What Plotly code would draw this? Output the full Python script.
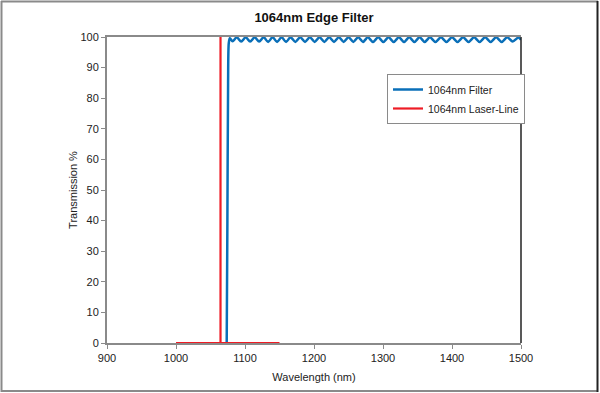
import plotly.graph_objects as go

# ---- data ----
filter_wl = [1073.5, 1074.5, 1075.5, 1076.5, 1078,
             1082, 1088, 1094.5, 1101, 1107.5, 1114, 1120.5, 1127, 1133.5, 1140,
             1146.5, 1153, 1159.5, 1166, 1173, 1180, 1187, 1194, 1201, 1208,
             1215, 1222, 1229, 1236, 1243, 1250, 1257, 1264, 1271, 1278,
             1285.5, 1293, 1300.5, 1308, 1315.5, 1323, 1330.5, 1338, 1345.5, 1353,
             1360.5, 1368, 1376, 1384, 1392, 1400, 1408, 1416, 1424, 1432,
             1440, 1448, 1456, 1464, 1472, 1480, 1488, 1496, 1500]
filter_t = [0, 40, 85, 98, 99.6,
            98.6, 99.9, 98.5, 99.9, 98.5, 99.9, 98.5, 99.9, 98.4, 99.9,
            98.4, 99.9, 98.4, 99.9, 98.4, 99.9, 98.4, 99.9, 98.4, 99.9,
            98.4, 99.9, 98.4, 99.9, 98.4, 99.9, 98.4, 99.9, 98.4, 99.9,
            98.4, 99.9, 98.4, 99.9, 98.4, 99.9, 98.4, 99.9, 98.4, 99.9,
            98.4, 99.9, 98.4, 99.9, 98.4, 99.9, 98.4, 99.9, 98.4, 99.9,
            98.4, 99.9, 98.4, 99.9, 98.4, 99.9, 98.5, 99.8, 99.1]

laser_wl = [1000, 1064.5, 1064.5, 1064.5, 1150]
laser_t = [0, 0, 100, 0, 0]

x_ticks = [900, 1000, 1100, 1200, 1300, 1400, 1500]
y_ticks = [0, 10, 20, 30, 40, 50, 60, 70, 80, 90, 100]

FONT = "Liberation Sans, Arial, sans-serif"

fig = go.Figure()
fig.add_trace(go.Scatter(x=filter_wl, y=filter_t, mode="lines", name="1064nm Filter",
                         line=dict(color="#0A6FB8", width=2.5, shape="spline", smoothing=0.8)))
fig.add_trace(go.Scatter(x=laser_wl, y=laser_t, mode="lines", name="1064nm Laser-Line",
                         line=dict(color="#EE1C25", width=2.2)))

L, R, T, B = 107, 79, 37, 50
W, H = 600 - L - R, 393 - T - B

def px(x):
    return (x - L) / W

def py(y):
    return (393 - B - y) / H

shapes = [
    # outer frame
    dict(type="line", xref="paper", yref="paper", x0=px(1), x1=px(598), y0=py(1.5), y1=py(1.5),
         line=dict(color="#8A8A8A", width=2)),
    dict(type="line", xref="paper", yref="paper", x0=px(1.5), x1=px(1.5), y0=py(1), y1=py(392),
         line=dict(color="#8A8A8A", width=2)),
    dict(type="line", xref="paper", yref="paper", x0=px(1), x1=px(598), y0=py(391), y1=py(391),
         line=dict(color="#8A8A8A", width=2)),
    dict(type="line", xref="paper", yref="paper", x0=px(597.5), x1=px(597.5), y0=py(1), y1=py(392),
         line=dict(color="#222222", width=2)),
    # right plot border
    dict(type="line", xref="paper", yref="paper", x0=1, x1=1, y0=0, y1=1,
         line=dict(color="#222222", width=1.5)),
]

fig.update_layout(
    width=600, height=393,
    margin=dict(l=L, r=R, t=T, b=B),
    paper_bgcolor="white", plot_bgcolor="white",
    font=dict(family=FONT, size=11, color="#222222"),
    title=dict(text="<b>1064nm Edge Filter</b>", x=0.5, xref="paper", xanchor="center",
               y=1 - 17 / 393, yanchor="middle",
               font=dict(family=FONT, size=13, color="#111111")),
    xaxis=dict(range=[900, 1500], tickvals=x_ticks, ticktext=[str(v) for v in x_ticks],
               showgrid=False, zeroline=False, showline=True, linecolor="#8A8A8A", linewidth=2,
               mirror=True, ticks="outside", ticklen=4, tickcolor="#8A8A8A", tickwidth=1,
               title=dict(text="Wavelength (nm)", standoff=10, font=dict(size=11))),
    yaxis=dict(range=[0, 100], tickvals=y_ticks, ticktext=[str(v) for v in y_ticks],
               showgrid=False, zeroline=False, showline=True, linecolor="#8A8A8A", linewidth=2,
               ticks="outside", ticklen=4, tickcolor="#8A8A8A", tickwidth=1,
               title=dict(text="Transmission %", standoff=1, font=dict(size=11))),
    legend=dict(x=px(387), y=py(74), xanchor="left", yanchor="top",
                bordercolor="#8A8A8A", borderwidth=1, bgcolor="white",
                font=dict(family=FONT, size=10.5, color="#222222"),
                tracegroupgap=4),
    shapes=shapes,
    showlegend=True,
)

fig.write_html("out.html", config={"displayModeBar": False},
               post_script="document.body.style.margin='0';document.body.style.padding='0';")
